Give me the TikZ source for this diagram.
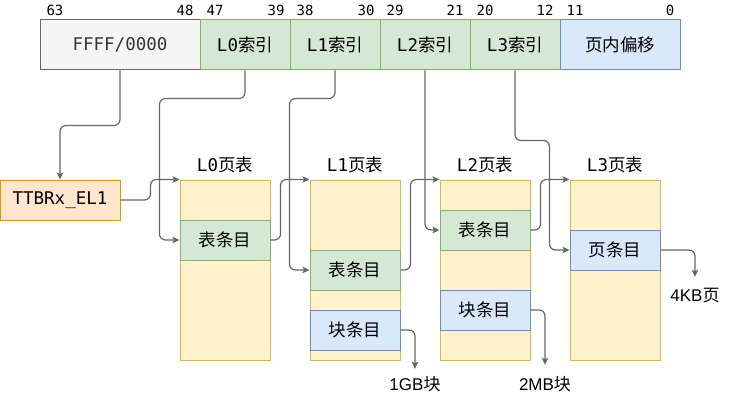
\documentclass[tikz,border=0pt]{standalone}
\usepackage{fontspec}
\setmainfont{DejaVu Sans Mono}
\newfontfamily\mono{DejaVu Sans Mono}
\newfontfamily\cjk{Noto Sans CJK SC}
\newfontfamily\lsans{Liberation Sans}
\usetikzlibrary{arrows.meta}
\newcommand\mx[2]{{\mono #1}{\cjk #2}}
\definecolor{grayF}{HTML}{F5F5F5}
\definecolor{grayS}{HTML}{666666}
\definecolor{greenF}{HTML}{D5E8D4}
\definecolor{greenS}{HTML}{82B366}
\definecolor{blueF}{HTML}{DAE8FC}
\definecolor{blueS}{HTML}{6C8EBF}
\definecolor{orangeF}{HTML}{FFE6CC}
\definecolor{orangeS}{HTML}{D79B00}
\definecolor{yellowF}{HTML}{FFF2CC}
\definecolor{yellowS}{HTML}{D6B656}
\definecolor{lineC}{HTML}{666666}
\tikzset{
  box/.style={rectangle, line width=1pt, inner sep=0pt, font=\fontsize{17.5}{20}\selectfont},
  grayb/.style={box, draw=grayS, fill=grayF, text=black!80},
  greenb/.style={box, draw=greenS, fill=greenF},
  blueb/.style={box, draw=blueS, fill=blueF},
  orangeb/.style={box, draw=orangeS, fill=orangeF},
  tableb/.style={box, draw=yellowS, fill=yellowF, minimum width=90pt, minimum height=180pt},
  entry/.style={minimum width=90pt, minimum height=40pt},
  bitnum/.style={inner sep=0pt, font=\mono\fontsize{14}{16}\selectfont},
  ttl/.style={inner sep=0pt, font=\fontsize{17.5}{20}\selectfont},
  outlab/.style={inner sep=0pt, font=\fontsize{17}{19}\selectfont},
  conn/.style={draw=lineC, line width=1.2pt, rounded corners=6pt, -{Stealth[length=7pt,width=6.5pt,inset=1.5pt]}},
}
\begin{document}
\begin{tikzpicture}[x=1pt,y=-1pt]
\useasboundingbox (0,0) rectangle (731,401);
% register
\node[grayb, minimum width=160pt, minimum height=50pt] (ffff) at (120,45) {\mono FFFF/0000};
\node[greenb, minimum width=90pt, minimum height=50pt] (l0i) at (245,45) {\mx{L0}{索引}};
\node[greenb, minimum width=90pt, minimum height=50pt] (l1i) at (335,45) {\mx{L1}{索引}};
\node[greenb, minimum width=90pt, minimum height=50pt] (l2i) at (425,45) {\mx{L2}{索引}};
\node[greenb, minimum width=90pt, minimum height=50pt] (l3i) at (515,45) {\mx{L3}{索引}};
\node[blueb, minimum width=120pt, minimum height=50pt] (off) at (620,45) {\cjk 页内偏移};
% bit numbers
\node[bitnum] (b63) at (55,10.5) {63};
\node[bitnum] (b48) at (185,10.5) {48};
\node[bitnum] (b47) at (215,10.5) {47};
\node[bitnum] (b39) at (276,10.5) {39};
\node[bitnum] (b38) at (305,10.5) {38};
\node[bitnum] (b30) at (366,10.5) {30};
\node[bitnum] (b29) at (395,10.5) {29};
\node[bitnum] (b21) at (455,10.5) {21};
\node[bitnum] (b20) at (485,10.5) {20};
\node[bitnum] (b12) at (545,10.5) {12};
\node[bitnum] (b11) at (575,10.5) {11};
\node[bitnum] (b0) at (670,10.5) {0};
% TTBR
\node[orangeb, minimum width=120pt, minimum height=40pt] (ttbr) at (60,200) {\mono TTBRx\_EL1};
% tables
\node[tableb] (t0) at (225,270) {};
\node[tableb] (t1) at (355,270) {};
\node[tableb] (t2) at (485,270) {};
\node[tableb] (t3) at (615,270) {};
\node[ttl] (h0) at (225,165) {\mx{L0}{页表}};
\node[ttl] (h1) at (355,165) {\mx{L1}{页表}};
\node[ttl] (h2) at (485,165) {\mx{L2}{页表}};
\node[ttl] (h3) at (615,165) {\mx{L3}{页表}};
% entries
\node[greenb, entry] (e0) at (225,240) {\cjk 表条目};
\node[greenb, entry] (e1) at (355,270) {\cjk 表条目};
\node[blueb, entry] (k1) at (355,330) {\cjk 块条目};
\node[greenb, entry] (e2) at (485,230) {\cjk 表条目};
\node[blueb, entry] (k2) at (485,310) {\cjk 块条目};
\node[blueb, entry] (e3) at (615,250) {\cjk 页条目};
% output labels
\node[outlab, minimum height=30pt] (g1) at (415,384) {{\lsans 1GB}{\cjk 块}};
\node[outlab, minimum height=38pt] (m2) at (545,384) {{\lsans 2MB}{\cjk 块}};
\node[outlab, minimum height=38pt] (k4) at (695,296) {{\lsans 4KB}{\cjk 页}};
% connectors
\draw[conn] (ffff.south) -- ++(0,55) -| (ttbr.north);
\draw[conn] (l0i.south) -- ++(0,28) -| ([xshift=-20pt]e0.west) -- (e0.west);
\draw[conn] (l1i.south) -- ++(0,28) -| ([xshift=-20pt]e1.west) -- (e1.west);
\draw[conn] (l2i.south) |- (e2.west);
\draw[conn] (l3i.south) -- ++(0,70) -| ([xshift=-20pt]e3.west) -- (e3.west);
\draw[conn] (ttbr.east) -- ++(30,0) |- (t0.north west);
\draw[conn] (e0.east) -- ++(10,0) |- (t1.north west);
\draw[conn] (e1.east) -- ++(10,0) |- (t2.north west);
\draw[conn] (e2.east) -- ++(10,0) |- (t3.north west);
\draw[conn] (e3.east) -| (k4.north);
\draw[conn] (k1.east) -| (g1.north);
\draw[conn] (k2.east) -| (m2.north);
\end{tikzpicture}
\end{document}
